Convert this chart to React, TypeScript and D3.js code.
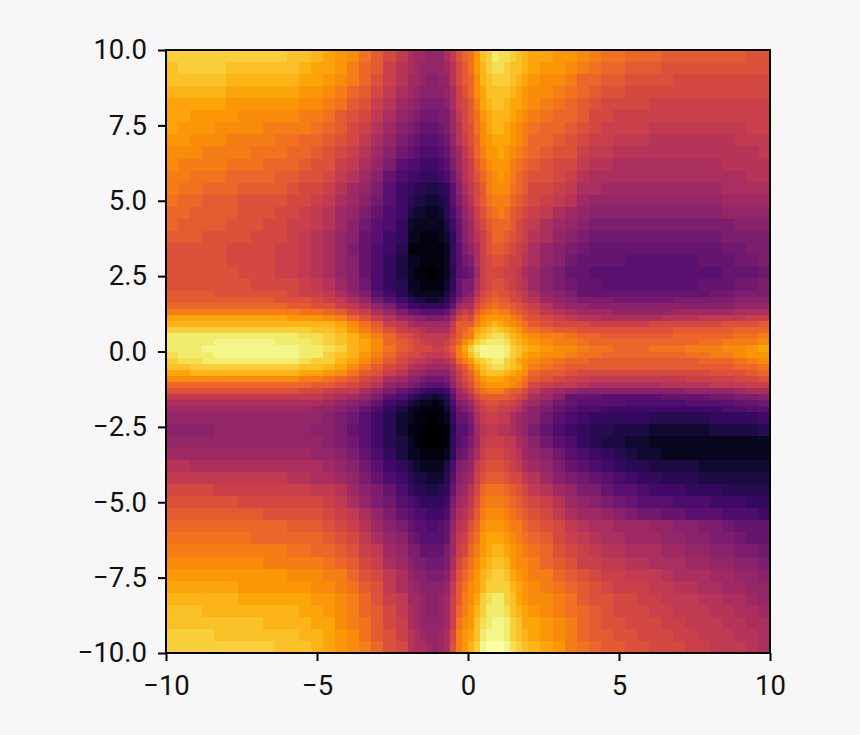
import * as d3 from "d3";
import { useEffect, useRef } from "react";

// cell edges: finer around the centre cross, coarser toward the frame
const cellEdges = [
  -10, -9.6, -9.2, -8.8, -8.4, -8, -7.6, -7.2, -6.8, -6.4, -6, -5.6, -5.2, -4.8, -4.4, -4, -3.6, -3.2, -2.8, -2.4, -2,
  -1.8, -1.6, -1.4, -1.2, -1, -0.8, -0.6, -0.4, -0.2, 0, 0.2, 0.4, 0.6, 0.8, 1, 1.2, 1.4, 1.6, 1.8, 2,
  2.4, 2.8, 3.2, 3.6, 4, 4.4, 4.8, 5.2, 5.6, 6, 6.4, 6.8, 7.2, 7.6, 8, 8.4, 8.8, 9.2, 9.6, 10,
];

// colour levels, base 36 (0 = black, z = palest), top row first
const levelRows = [
  "vvvvvvvvvv uutsrqomki gffeeegiln oruvxwwvut ssrrqpoonn nmmmmmmmll",
  "uvvvvuuuuu utssrpnmjh gfeeeefhkm ortvwwvuut srrqponnmm mlllllllll",
  "uuuuuttttt tssrqpnljh ffeddeehkm nqtuvvvuts rqqpnnmmll llkkkkkkkk",
  "tttttsssss srrqpnmkig feddddegjl nqsuuuutsr qqponmllkk kkkkkkkkkk",
  "sssssrrrrr rqqpomljhf edccccdgjk mpstuutssr qponmlkkkk jjjjjjjjjj",
  "ssrrrrqqqq qppomlkige dcbbbccfik morstttsrq ponnmkkjjj jjjjjjjjjj",
  "srrrqqqqpp pponmkjhfd cbaaabcfhk loqsttsrqp onnmlkjjjj iiiiiiiijj",
  "rrqqqppppo onnmlkigec ba999abehj lnqrsssrqp nnmlkjjiii hhhhhhhiii",
  "qqqppppooo nnmlkjhfdb a98889adfi knprrsrqpo nmlljiihhh hhhhhhhhhi",
  "qppppooonn nmlljigec9 8877789cfh jmoqrrrpon mlkkihhggg gggggghhhh",
  "ppooonnnnm mllkihfda8 7766678beh jlnpqrqpnm llkjhggggg gggggggghh",
  "poonnnmmmm lkkjhfec97 65544569dg ikmpqqqonm kkjiggffff ffffffgggg",
  "onnmmmllll kkjigfdb97 54433459cf hkmopppnml kjihfeeeee eeeeeeffff",
  "nnmmmmlllk kjihfeca87 43322358be gjlnopomlk jigfeddddd ddddddeeee",
  "nmmmmlllkk jjihfdb986 32222247ad fikmnnnmkj igfedccccc cccccccddd",
  "mmmllllkkk jihgeda976 22111236ad fhjlnnmlkj hgedcbbbbb bbbbbbcccc",
  "lllllkkkkj jihgeca875 111111269c egjlmmlkji gedcbaaaaa aaaaaabbcc",
  "lllllkkkkj jihgeda864 221111269b cgjkllkjjh gedbaaaa99 9999aaabbc",
  "llllllkkkj jihgeda864 211001259a bfjkkkjjig fdcaa99999 999999aaab",
  "lllllllkkk kjihfdb865 22111136ac cgjkllkjih fdcbaa9999 9999aaabbc",
  "mmmmllllll kjjigec975 32222247ac dhklmllkji gedcaaaaaa aaaaabbccc",
  "mmmmmmmmml llkjigeb97 54433458ce fjlmnmmkki hfedcccbbb bbcccccddd",
  "nnnnnnnnnn mmlljigec9 7766667afg gkmnonnmlk jhfeeddddd dddddddeee",
  "pppppppppp poonmkjgec aa9999adhj imopqppnml kihgfffeee eefffffggg",
  "ssssssssss rrrqpnljhf eddcccdgkl koqrrrqpom lkjihhgggg ghhhiiiijj",
  "tttttttttt ttttsqomji gffffffimm mprstsrqpo mlkkkjjjjj kkkkkklllm",
  "vvvvvvvvvv vvuutrpnlj iihggggjmn pstuvutsrp onmmllllll llmmmmmnnn",
  "xxxxxxxxxx xwwvutrpnl kjiiiiikmo ptuvwwvtsr qpponnmmmm mmnnnnnoop",
  "xxxxyyyyyx xxwvutsqnm lkjjiijlnq svwxxxwuts rqpponnnnn nnnnoopppq",
  "xxxyyyyyyy yxxwvtsqom lkkkjjkmps vxyyyyxvut srqqpoonnn ooopppqqrs",
  "wxxxyyyyyy yxxvutrpnl kkjiiijlpr uwyyyyxvus rqqpoonnnn nnnooppqrr",
  "vwwxxxxxxx xwvvtsqomk jiihgghjnp ruvwxxvusr qponnmmmmm mmmmnnnopq",
  "uuvvvvvvvv vuutsqomkj hggffffhkm psuvwwvutr ponmmmmmmm mmmmmmmnno",
  "sstttttttt tssrqomljh ffeddddgjl nqtuuutsrq nmmlkkkkkk kkkkklllmn",
  "qqqqqqqqqq qpponmkjgf ddcbbbcfik mprsssrqqo mlkjjiiiii iiijjjjkkl",
  "nnnnnnnnnn nnmmlkjhed cba999aehj loqrrrrqpn kjiihggggg ghhhhiiijj",
  "llllllllll lkkjiigeca 9876667bfh jmopppnmmk igfedddddd dddeeeefgg",
  "iiiiiiiiii iiihgfec98 65443459ef hkmmmmmlkj gfdaaa9999 9aaaabbccd",
  "gggggggggg gggfedca76 43221248cd fikllkkjig fdba999988 8889999aab",
  "ffffffffff ffeedca864 22111137bc ehjkkjjihf dca9887777 7777778899",
  "eeeeeeeeee eeedcb9753 21100126aa cgijjiigfe db98766666 5555566667",
  "ddddeeeeee eeddca9753 1100001599 bfhiihhgfe ca87655444 3333344445",
  "eeeeeeeeee eeedcb9754 210000169a cfijjjiigf db98654433 2222222222",
  "ffffffffff ffeedca864 22111126ab dgjkkkjihf edb9876543 3222222222",
  "hhgggggggg gggfedb976 43222248cd eiklllkjig feca987655 4444333333",
  "iiiiiiiiii hhggfeca87 54433359de fjlmmmlkki hfdcba9876 6555444444",
  "kkkkjjjjjj jjiihfdca8 6554456aef hknooonmlk ihfecca998 7776665555",
  "llllllkkkk kkkjigecb9 8766667cfg iloppponml kjhfedcba9 9988877766",
  "mmmmmmmmll lllkjigeca 9887778dgh jmpqqqponm lkigffedcb baa9998887",
  "nnnnnnnnnn mmmlkjhfdc a99889aehi lnqrrrqppn mlkihggfff eeddccbaaa",
  "ooooooonnn nnnmlkiged ba9999afij morsssrqpo nmkjihggff feeddccbaa",
  "pppppppppp oonnmljife ccaaaacfjk nprsttsrqp onlkjihhgg gffeeddccb",
  "qqqqqqqqpp ppponmkjgf dccbbbcgkm oqstuutrqq pnmljjiihh gggffeeddc",
  "rrrrrrrrrr qqqppnlkig eddcccdhln prtuvvusrq ppnmlkjjii ihgggffeed",
  "ssssssrrrr rrqqpomlig feddddeimo qrtvvvvtsr qponmlkjjj iihhggffee",
  "ttttttssss ssrrqpnlji ffeddefjmp qsvwxxvusr qqpomllkkj jiiihhggfe",
  "uuuttttttt tssrqpnmki gfeddefjnp rtvxxxwuts rqponmlkkk jjiiihhggf",
  "uuuuuuuutt ttssqpomkj gfeeeefjoq ruwxyyxvus srqpnmllkk kjjiiihhgg",
  "vvvvuuuuuu uttsrqomlj hgfeefgkpr suxyyyxvut srqpnmmllk kkjjiiihhg",
  "vvvvvvvvvu uutsrqpnlk hggfefglpr tvyzzzywvu tsrponmmll kkkjjiiihg",
];

const xTicks = [-10, -5, 0, 5, 10];
const yTicks = [-10, -7.5, -5, -2.5, 0, 2.5, 5, 7.5, 10];

const WIDTH = 860;
const HEIGHT = 735;
const BG = "#f7f7f7";
const FONT = "Roboto, sans-serif";
const LEVEL_MAX = 35;

const minusSign = (s: string) => s.replace("-", "\u2212");

export default function App() {
  const svgRef = useRef<SVGSVGElement>(null);

  useEffect(() => {
    const svg = d3.select(svgRef.current);
    svg.selectAll("*").remove();

    const x = d3.scaleLinear().domain([-10, 10]).range([166, 770]);
    const y = d3.scaleLinear().domain([-10, 10]).range([653, 50]);
    const color = d3.scaleSequential(d3.interpolateInferno).domain([0, LEVEL_MAX]);

    const levels = levelRows.map((row) =>
      row.replace(/ /g, "").split("").map((c) => parseInt(c, 36))
    );
    const topDown = cellEdges.slice().reverse();

    const cells = levels.flatMap((row, r) =>
      row.map((level, c) => ({
        level,
        x0: cellEdges[c],
        x1: cellEdges[c + 1],
        y0: topDown[r],
        y1: topDown[r + 1],
      }))
    );

    // ── Heatmap ──
    svg.append("g")
      .attr("shape-rendering", "crispEdges")
      .selectAll("rect")
      .data(cells)
      .enter()
      .append("rect")
      .attr("x", (d) => Math.round(x(d.x0)))
      .attr("y", (d) => Math.round(y(d.y0)))
      .attr("width", (d) => Math.round(x(d.x1)) - Math.round(x(d.x0)))
      .attr("height", (d) => Math.round(y(d.y1)) - Math.round(y(d.y0)))
      .attr("fill", (d) => color(d.level));

    // ── Axes ──
    const xAxis = d3.axisBottom(x)
      .tickValues(xTicks)
      .tickSize(8)
      .tickPadding(14)
      .tickFormat((d) => minusSign(String(d)));
    const yAxis = d3.axisLeft(y)
      .tickValues(yTicks)
      .tickSize(8)
      .tickPadding(11)
      .tickFormat((d) => minusSign((d as number).toFixed(1)));

    const gx = svg.append("g").attr("transform", "translate(0,653)").call(xAxis);
    const gy = svg.append("g").attr("transform", "translate(166,0)").call(yAxis);

    for (const g of [gx, gy]) {
      g.select(".domain").remove();
      g.selectAll("line").attr("stroke", "#000").attr("stroke-width", 2);
      g.selectAll("text")
        .attr("fill", "#111")
        .style("font-family", FONT)
        .style("font-size", "27.5px");
    }

    // ── Frame ──
    svg.append("rect")
      .attr("x", 166)
      .attr("y", 50)
      .attr("width", 604)
      .attr("height", 603)
      .attr("fill", "none")
      .attr("stroke", "#000")
      .attr("stroke-width", 2);
  }, []);

  return (
    <svg
      ref={svgRef}
      width={WIDTH}
      height={HEIGHT}
      style={{ position: "absolute", left: 0, top: 0, background: BG }}
    />
  );
}
